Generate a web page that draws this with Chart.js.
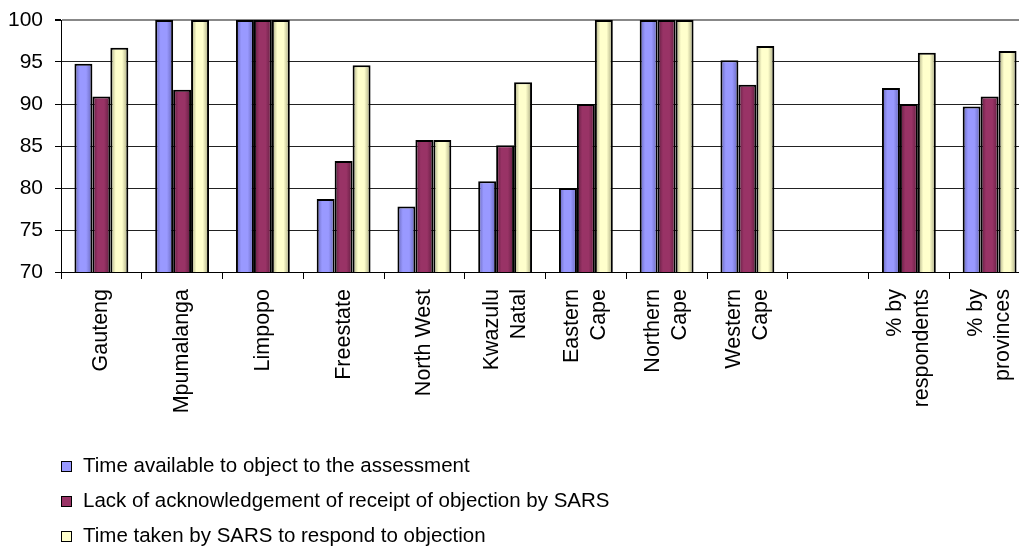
<!DOCTYPE html>
<html>
<head>
<meta charset="utf-8">
<script src="https://cdn.jsdelivr.net/npm/chart.js@4.4.0/dist/chart.umd.min.js"></script>
<style>
    html, body { margin: 0; padding: 0; background: #fff; overflow: hidden; }
    #wrap { position: relative; width: 1019px; height: 549px; overflow: hidden; }
    #myChart { display: block; }
    #legend { position: absolute; left: 61px; top: 447px; font: 20.5px "Liberation Sans", Arial, sans-serif; color: #000; }
    .item { line-height: 35px; white-space: nowrap; }
    .box { display: inline-block; width: 9px; height: 9px; border: 1px solid #000; margin-right: 11px; vertical-align: baseline; }
</style>
</head>
<body>
<div id="wrap">
    <canvas id="myChart" width="1030" height="549"></canvas>
    <div id="legend"></div>
</div>
<script>
const categories = [
    "Gauteng",
    "Mpumalanga",
    "Limpopo",
    "Freestate",
    "North West",
    ["Kwazulu", "Natal"],
    ["Eastern", "Cape"],
    ["Northern", "Cape"],
    ["Western", "Cape"],
    "",
    ["% by", "respondents"],
    ["% by", "provinces"],
];

const series_names = [
    "Time available to object to the assessment",
    "Lack of acknowledgement of receipt of objection by SARS",
    "Time taken by SARS to respond to objection",
];

const time_available = [94.8, 100, 100, 78.7, 77.8, 80.8, 80, 100, 95.2, null, 91.9, 89.7];
const no_acknowledgement = [90.9, 91.7, 100, 83.2, 85.7, 85.1, 90, 100, 92.3, null, 90, 90.9];
const response_time = [96.7, 100, 100, 94.6, 85.7, 92.6, 100, 100, 96.9, null, 96.1, 96.3];

const y_ticks = [70, 75, 80, 85, 90, 95, 100];

const fills = ['#9999ff', '#993366', '#ffffcc'];
const edges = ['#6565b8', '#5e1c3e', '#a3a37c'];

const fontFamily = '"Liberation Sans", Arial, sans-serif';

// excel style shading across each bar
const barShade = {
    id: 'barShade',
    beforeDatasetsDraw(chart) {
        const ctx = chart.ctx;
        chart.data.datasets.forEach((ds, i) => {
            chart.getDatasetMeta(i).data.forEach(bar => {
                const l = bar.x - bar.width / 2;
                const r = bar.x + bar.width / 2;
                const g = ctx.createLinearGradient(l, 0, r, 0);
                g.addColorStop(0, edges[i]);
                g.addColorStop(0.3, fills[i]);
                g.addColorStop(0.65, fills[i]);
                g.addColorStop(1, edges[i]);
                bar.options = Object.assign({}, bar.options, { backgroundColor: g });
            });
        });
    }
};

// rotated category labels, multi-line ones centred on the tick
const xLabels = {
    id: 'xLabels',
    afterDraw(chart) {
        const ctx = chart.ctx;
        const x = chart.scales.x;
        const lh = 27;
        ctx.save();
        ctx.font = '21.5px ' + fontFamily;
        ctx.fillStyle = '#000';
        ctx.textAlign = 'right';
        ctx.textBaseline = 'middle';
        categories.forEach((lab, i) => {
            const lines = [].concat(lab);
            ctx.save();
            ctx.translate(x.getPixelForTick(i), x.top + 17);
            ctx.rotate(-Math.PI / 2);
            lines.forEach((t, j) => ctx.fillText(t, 0, (j - (lines.length - 1) / 2) * lh));
            ctx.restore();
        });
        ctx.restore();
    }
};

const all_series = [time_available, no_acknowledgement, response_time];

const myChart = new Chart('myChart', {
    type: 'bar',
    data: {
        labels: categories,
        datasets: all_series.map((d, i) => ({
            label: series_names[i],
            data: d,
            backgroundColor: fills[i],
            borderColor: '#000',
            borderWidth: 2,
            borderSkipped: false,
            categoryPercentage: 0.667,
            barPercentage: 1,
        }))
    },
    options: {
        responsive: false,
        animation: false,
        layout: { padding: { top: 20, left: 0, right: 0, bottom: 0 } },
        plugins: {
            legend: { display: false },
            tooltip: { enabled: false },
        },
        scales: {
            x: {
                grid: {
                    offset: true,
                    drawOnChartArea: false,
                    tickLength: 7,
                    color: '#000',
                },
                border: { color: '#000', width: 1 },
                ticks: { display: false },
                afterFit: s => { s.height = 277; },
            },
            y: {
                min: 70,
                max: 100,
                afterBuildTicks: s => { s.ticks = y_ticks.map(v => ({ value: v })); },
                grid: {
                    color: c => c.tick && c.tick.value === 100 ? '#888' : '#222',
                    lineWidth: c => c.tick && c.tick.value === 100 ? 2 : 1,
                    tickColor: '#000',
                    tickLength: 6,
                },
                border: { color: '#000', width: 1 },
                ticks: {
                    color: '#000',
                    padding: 12,
                    font: { family: fontFamily, size: 21 },
                },
                afterFit: s => {
                    s.width = 61;
                    s.paddingTop = 0;
                    s.paddingBottom = 0;
                },
            }
        }
    },
    plugins: [barShade, xLabels]
});

document.getElementById('legend').innerHTML = myChart.data.datasets.map((ds, i) =>
    '<div class="item"><span class="box" style="background:' + fills[i] + '"></span>' + ds.label + '</div>'
).join('');
</script>
</body>
</html>
